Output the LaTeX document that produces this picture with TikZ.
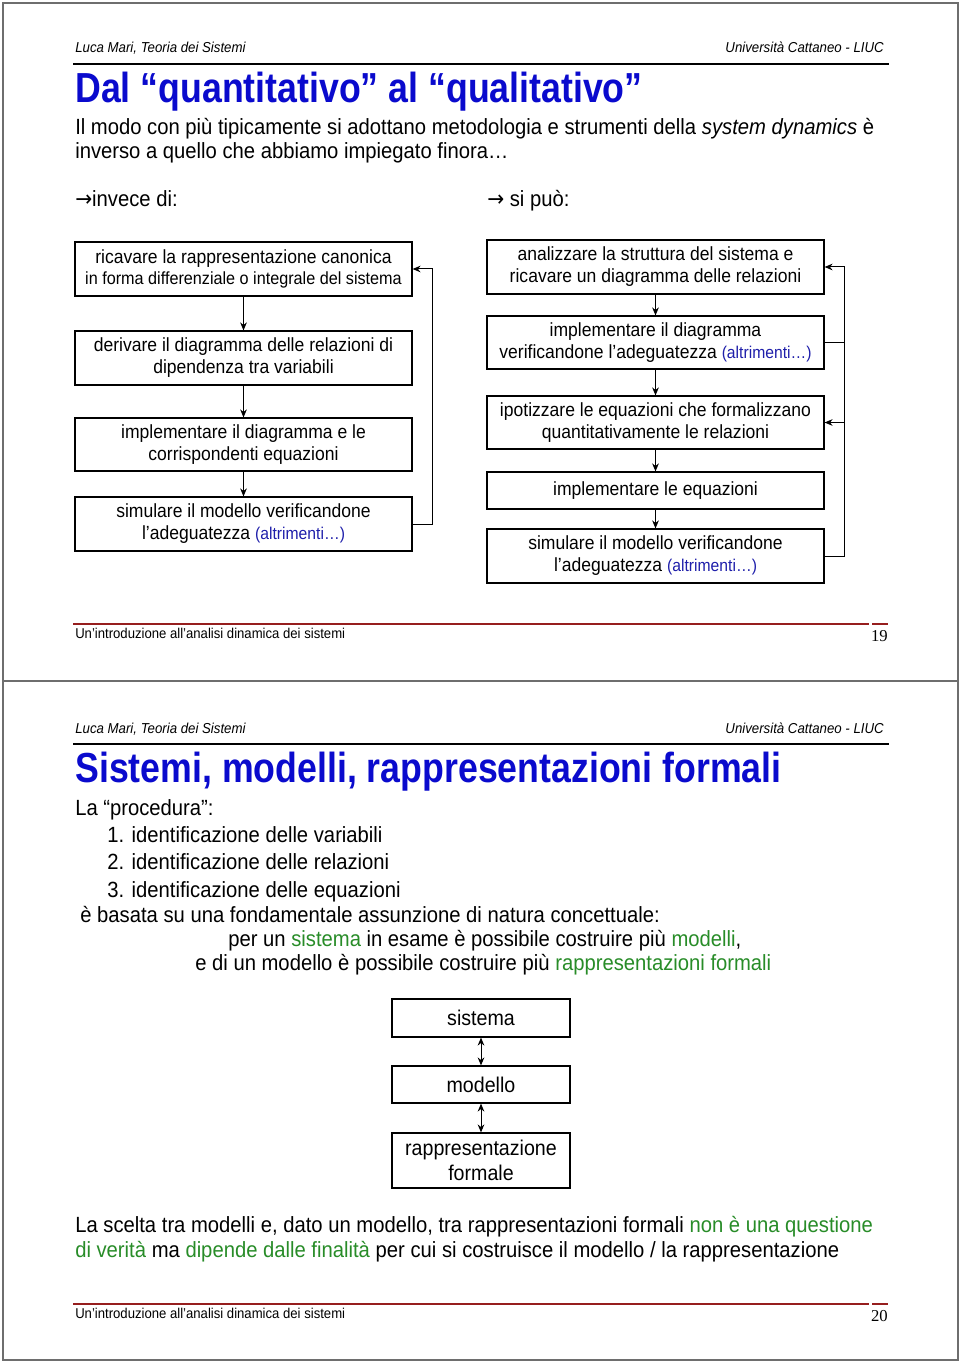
\documentclass[tikz,border=0pt]{standalone}
\usepackage{fontspec}
\setmainfont{Liberation Sans}[FakeStretch=0.92]
\newfontfamily\titlefont{Liberation Sans}[FakeStretch=0.85]
\newfontfamily\serifnum{Liberation Serif}
\newfontfamily\symfont{DejaVu Sans}[FakeStretch=0.92]
\usetikzlibrary{arrows.meta}
\definecolor{titleblue}{RGB}{10,10,205}
\definecolor{altblue}{RGB}{30,30,170}
\definecolor{okgreen}{RGB}{40,140,40}
\definecolor{footred}{RGB}{150,30,30}
\definecolor{framegray}{RGB}{110,110,110}
\newcommand{\alt}[1]{\textcolor{altblue}{\fontsize{12.8}{15}\selectfont #1}}
\newcommand{\gr}[1]{\textcolor{okgreen}{#1}}
\newcommand{\rarr}{{\symfont →}}
\tikzset{
  txt/.style={anchor=base west, inner sep=0pt, font=\fontsize{16.5}{20}\selectfont},
  hdr/.style={anchor=base west, inner sep=0pt, font=\itshape\fontsize{10.8}{12}\selectfont},
  hdrr/.style={anchor=base east, inner sep=0pt, font=\itshape\fontsize{10.8}{12}\selectfont},
  ttl/.style={anchor=base west, inner sep=0pt, text=titleblue, font=\titlefont\bfseries\fontsize{31.5}{36}\selectfont},
  foot/.style={anchor=base west, inner sep=0pt, font=\fontsize{10.7}{12}\selectfont},
  pnum/.style={anchor=base east, inner sep=0pt, font=\serifnum\fontsize{12.5}{14}\selectfont},
  box/.style={draw=black, line width=0.9pt, minimum width=252.75pt, minimum height=40.5pt, align=center, inner sep=0pt, font=\fontsize{14.3}{16.5}\selectfont},
  sbox/.style={draw=black, line width=0.9pt, minimum width=133.5pt, minimum height=28.5pt, align=center, inner sep=0pt, font=\fontsize{16}{18.5}\selectfont},
  arr/.style={line width=0.75pt, -{Stealth[length=6pt,width=5pt]}},
  darr/.style={line width=0.75pt, {Stealth[length=6pt,width=5pt]}-{Stealth[length=6pt,width=5pt]}},
  ln/.style={line width=0.75pt},
  frame/.style={draw=framegray, line width=1.5pt},
  hrule/.style={line width=2.2pt, black},
  frule/.style={line width=1.3pt, footred}
}
\begin{document}
\begin{tikzpicture}[x=0.75pt,y=-0.75pt]
\useasboundingbox (0,0) rectangle (960,1362);
% page frames
\draw[frame] (3,3) rectangle (958,681);
\draw[frame] (3,681) rectangle (958,1360);

% ===== slide 1 =====
\node[hdr] (h1l) at (75,53) {Luca Mari, Teoria dei Sistemi};
\node[hdrr] (h1r) at (884,53) {Università Cattaneo - LIUC};
\draw[hrule] (73,64) -- (889,64);
\node[ttl] (t1) at (75,102.5) {Dal “quantitativo” al “qualitativo”};
\node[txt] (b1) at (75,135) {Il modo con più tipicamente si adottano metodologia e strumenti della \textit{system dynamics} è};
\node[txt] (b2) at (75,159) {inverso a quello che abbiamo impiegato finora…};
\node[txt] (inv) at (75,207) {\rarr invece di:};
\node[txt] (sip) at (487,207) {\rarr{} si può:};

% left chain
\node[box] (L1) at (243.5,269) {ricavare la rappresentazione canonica\\[-1pt]{\fontsize{13.2}{15}\selectfont in forma differenziale o integrale del sistema}};
\node[box] (L2) at (243.5,358) {derivare il diagramma delle relazioni di\\dipendenza tra variabili};
\node[box, minimum height=39.75pt] (L3) at (243.5,444.5) {implementare il diagramma e le\\corrispondenti equazioni};
\node[box] (L4) at (243.5,524) {simulare il modello verificandone\\l’adeguatezza \alt{(altrimenti…)}};
\draw[arr] (L1) -- (L2);
\draw[arr] (L2) -- (L3);
\draw[arr] (L3) -- (L4);
\draw[arr] (L4.east) -- ++(20,0) |- (L1.east);

% right chain
\node[box] (R1) at (655.5,267) {analizzare la struttura del sistema e\\ricavare un diagramma delle relazioni};
\node[box, minimum height=39.75pt] (R2) at (655.5,342.5) {implementare il diagramma\\verificandone l’adeguatezza \alt{(altrimenti…)}};
\node[box, minimum height=39.75pt] (R3) at (655.5,422.5) {ipotizzare le equazioni che formalizzano\\quantitativamente le relazioni};
\node[box, minimum height=27.75pt] (R4) at (655.5,490.5) {implementare le equazioni};
\node[box] (R5) at (655.5,556) {simulare il modello verificandone\\l’adeguatezza \alt{(altrimenti…)}};
\draw[arr] (R1) -- (R2);
\draw[arr] (R2) -- (R3);
\draw[arr] (R3) -- (R4);
\draw[arr] (R4) -- (R5);
\coordinate (rail) at (844,0);
\draw[arr] (R5.east) -- (R5.east -| rail) |- (R1.east);
\draw[ln] (R2.east) -- (R2.east -| rail);
\draw[arr] (R3.east -| rail) -- (R3.east);

% footer 1
\draw[frule] (73,624) -- (869,624);
\draw[frule] (872,624) -- (888,624);
\node[foot] (f1) at (75,638) {Un’introduzione all’analisi dinamica dei sistemi};
\node[pnum] (p1) at (888,641) {19};

% ===== slide 2 =====
\node[hdr] (h2l) at (75,733) {Luca Mari, Teoria dei Sistemi};
\node[hdrr] (h2r) at (884,733) {Università Cattaneo - LIUC};
\draw[hrule] (73,744) -- (889,744);
\node[ttl] (t2) at (75,782.5) {Sistemi, modelli, rappresentazioni formali};
\node[txt] (c0) at (75,815) {La “procedura”:};
\node[txt] (c1) at (107,842) {1. identificazione delle variabili};
\node[txt] (c2) at (107,869) {2. identificazione delle relazioni};
\node[txt] (c3) at (107,897) {3. identificazione delle equazioni};
\node[txt] (c4) at (80,922) {è basata su una fondamentale assunzione di natura concettuale:};
\node[txt] (c5) at (228,946) {per un \gr{sistema} in esame è possibile costruire più \gr{modelli},};
\node[txt] (c6) at (195,970) {e di un modello è possibile costruire più \gr{rappresentazioni formali}};

\node[sbox] (S1) at (481,1018) {sistema};
\node[sbox, minimum height=27.75pt] (S2) at (481,1084.5) {modello};
\node[sbox, minimum height=41.25pt] (S3) at (481,1160.5) {rappresentazione\\formale};
\draw[darr] (S1) -- (S2);
\draw[darr] (S2) -- (S3);

\node[txt] (d1) at (75,1232) {La scelta tra modelli e, dato un modello, tra rappresentazioni formali \gr{non è una questione}};
\node[txt] (d2) at (75,1257) {\gr{di verità} ma \gr{dipende dalle finalità} per cui si costruisce il modello / la rappresentazione};

% footer 2
\draw[frule] (73,1304) -- (869,1304);
\draw[frule] (872,1304) -- (888,1304);
\node[foot] (f2) at (75,1318) {Un’introduzione all’analisi dinamica dei sistemi};
\node[pnum] (p2) at (888,1321) {20};
\end{tikzpicture}
\end{document}
